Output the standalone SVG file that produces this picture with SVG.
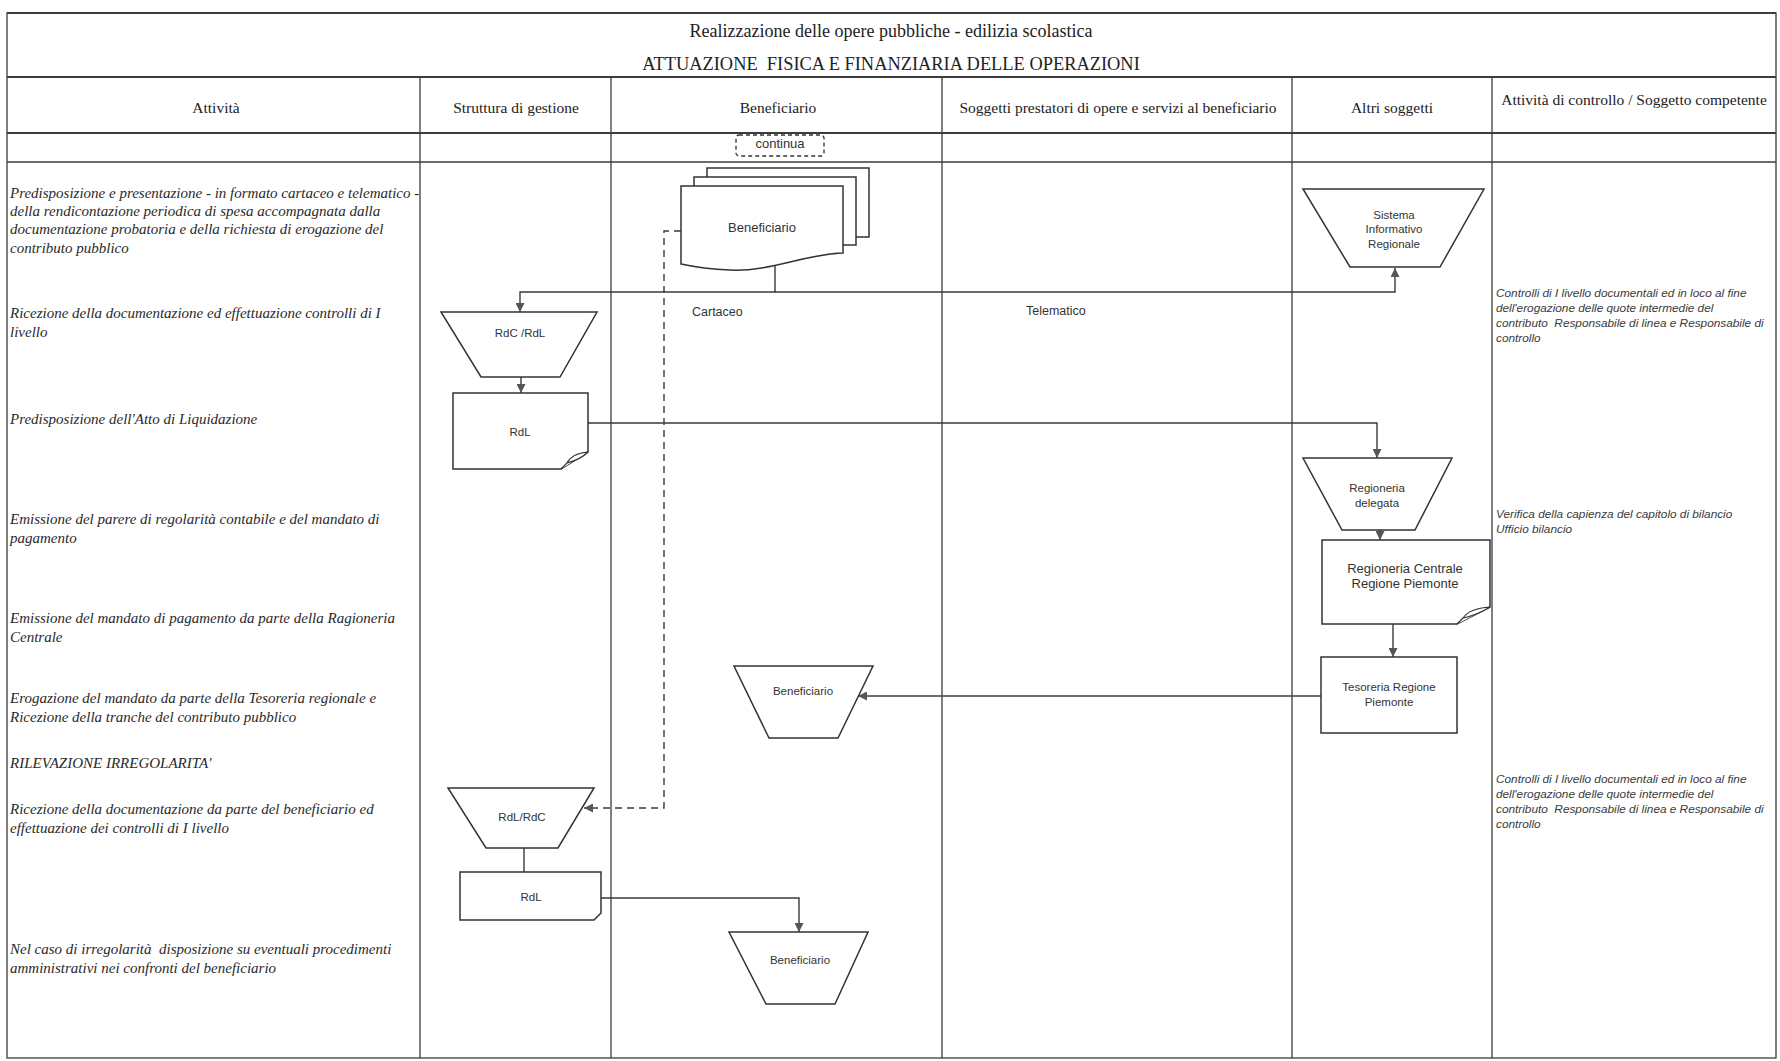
<svg xmlns="http://www.w3.org/2000/svg" width="1780" height="1061" viewBox="0 0 1780 1061">
<style>
.grid{stroke:#3c3c3c;stroke-width:1.3;fill:none}
.gridh{stroke:#3c3c3c;stroke-width:2.2;fill:none}
.title{font-family:"Liberation Serif",serif;font-size:18px;fill:#222;text-anchor:middle}
.hdr{font-family:"Liberation Serif",serif;font-size:15.5px;fill:#222;text-anchor:middle}
.act{font-family:"Liberation Serif",serif;font-style:italic;font-size:15px;fill:#2a2a2a}
.ctl{font-family:"Liberation Sans",sans-serif;font-style:italic;font-size:11.8px;fill:#3a3a3a}
.shape{fill:#fff;stroke:#333;stroke-width:1.5}
.lbl{font-family:"Liberation Sans",sans-serif;font-size:11.5px;fill:#333;text-anchor:middle}
.lbl13{font-family:"Liberation Sans",sans-serif;font-size:13px;fill:#333;text-anchor:middle}
.free{font-family:"Liberation Sans",sans-serif;font-size:12.5px;fill:#333}
.conn{fill:none;stroke:#3a3a3a;stroke-width:1.4}
.dash{fill:none;stroke:#3a3a3a;stroke-width:1.4;stroke-dasharray:7 5}
</style>
<defs>
<marker id="arr" viewBox="0 0 10 10" refX="10" refY="5" markerWidth="9" markerHeight="9" markerUnits="userSpaceOnUse" orient="auto">
<path d="M0,0 L10,5 L0,10 Z" fill="#555"/>
</marker>
</defs>
<rect width="1780" height="1061" fill="#fff"/>

<g id="grid">
<rect x="7" y="13" width="1769" height="1045" class="grid"/>
<line x1="7" y1="13" x2="1776" y2="13" class="gridh"/>
<line x1="7" y1="77" x2="1776" y2="77" class="gridh"/>
<line x1="7" y1="133" x2="1776" y2="133" class="gridh"/>
<line x1="7" y1="162" x2="1776" y2="162" class="grid"/>
<line x1="420" y1="77" x2="420" y2="1058" class="grid"/>
<line x1="611" y1="77" x2="611" y2="1058" class="grid"/>
<line x1="942" y1="77" x2="942" y2="1058" class="grid"/>
<line x1="1292" y1="77" x2="1292" y2="1058" class="grid"/>
<line x1="1492" y1="77" x2="1492" y2="1058" class="grid"/>
</g>

<g id="titles">
<text x="891" y="37" class="title">Realizzazione delle opere pubbliche - edilizia scolastica</text>
<text x="891" y="70" class="title" style="font-size:18.4px" xml:space="preserve">ATTUAZIONE  FISICA E FINANZIARIA DELLE OPERAZIONI</text>
</g>

<g id="headers">
<text x="216" y="113" class="hdr">Attività</text>
<text x="516" y="113" class="hdr">Struttura di gestione</text>
<text x="778" y="113" class="hdr">Beneficiario</text>
<text x="1118" y="113" class="hdr">Soggetti prestatori di opere e servizi al beneficiario</text>
<text x="1392" y="113" class="hdr">Altri soggetti</text>
<text x="1634" y="105" class="hdr">Attività di controllo / Soggetto competente</text>
</g>

<g id="activities">
<text x="10" y="197.5" class="act">Predisposizione e presentazione - in formato cartaceo e telematico -</text>
<text x="10" y="215.5" class="act">della rendicontazione periodica di spesa accompagnata dalla</text>
<text x="10" y="234" class="act">documentazione probatoria e della richiesta di erogazione del</text>
<text x="10" y="252.5" class="act">contributo pubblico</text>
<text x="10" y="318" class="act">Ricezione della documentazione ed effettuazione controlli di I</text>
<text x="10" y="337" class="act">livello</text>
<text x="10" y="424" class="act">Predisposizione dell'Atto di Liquidazione</text>
<text x="10" y="524" class="act">Emissione del parere di regolarità contabile e del mandato di</text>
<text x="10" y="542.5" class="act">pagamento</text>
<text x="10" y="623" class="act">Emissione del mandato di pagamento da parte della Ragioneria</text>
<text x="10" y="642" class="act">Centrale</text>
<text x="10" y="703" class="act">Erogazione del mandato da parte della Tesoreria regionale e</text>
<text x="10" y="721.5" class="act">Ricezione della tranche del contributo pubblico</text>
<text x="10" y="768" class="act">RILEVAZIONE IRREGOLARITA'</text>
<text x="10" y="814" class="act">Ricezione della documentazione da parte del beneficiario ed</text>
<text x="10" y="833" class="act">effettuazione dei controlli di I livello</text>
<text x="10" y="954" class="act" xml:space="preserve">Nel caso di irregolarità  disposizione su eventuali procedimenti</text>
<text x="10" y="973" class="act">amministrativi nei confronti del beneficiario</text>
</g>

<g id="controls">
<text x="1496" y="297" class="ctl">Controlli di I livello documentali ed in loco al fine</text>
<text x="1496" y="312" class="ctl">dell'erogazione delle quote intermedie del</text>
<text x="1496" y="327" class="ctl" xml:space="preserve">contributo  Responsabile di linea e Responsabile di</text>
<text x="1496" y="342" class="ctl">controllo</text>
<text x="1496" y="518" class="ctl">Verifica della capienza del capitolo di bilancio</text>
<text x="1496" y="533" class="ctl">Ufficio bilancio</text>
<text x="1496" y="783" class="ctl">Controlli di I livello documentali ed in loco al fine</text>
<text x="1496" y="798" class="ctl">dell'erogazione delle quote intermedie del</text>
<text x="1496" y="813" class="ctl" xml:space="preserve">contributo  Responsabile di linea e Responsabile di</text>
<text x="1496" y="828" class="ctl">controllo</text>
</g>

<g id="connectors">
<path d="M775,264 V292 H520 V312" class="conn" marker-end="url(#arr)"/>
<path d="M775,292 H1395 V268" class="conn" marker-end="url(#arr)"/>
<path d="M521,377 V393" class="conn" marker-end="url(#arr)"/>
<path d="M584,423 H1377 V458" class="conn" marker-end="url(#arr)"/>
<path d="M1380,530 V540" class="conn" marker-end="url(#arr)"/>
<path d="M1393,624 V657" class="conn" marker-end="url(#arr)"/>
<path d="M1321,696 H858" class="conn" marker-end="url(#arr)"/>
<path d="M681,231 H664 V808 H584" class="dash" marker-end="url(#arr)"/>
<path d="M524,848 V872" class="conn"/>
<path d="M601,898 H799 V932" class="conn" marker-end="url(#arr)"/>
</g>

<g id="continua">
<rect x="736" y="135" width="88" height="21" rx="3" fill="#fff" stroke="#333" stroke-width="1.3" stroke-dasharray="4 3"/>
<text x="780" y="148" class="lbl13">continua</text>
</g>

<g id="beneficiario-doc">
<rect x="707" y="168" width="162" height="69" class="shape"/>
<rect x="694" y="177" width="162" height="68" class="shape"/>
<path d="M681,186 H843 V253 C805,254 770,272 730,270 C705,269 690,266 681,264 Z" class="shape"/>
<text x="762" y="232" class="lbl13">Beneficiario</text>
</g>

<g id="cartaceo"><text x="692" y="316" class="free">Cartaceo</text></g>
<g id="telematico"><text x="1026" y="315" class="free">Telematico</text></g>

<g id="sistema-informativo">
<path d="M1303,189 H1484 L1440,267 H1350 Z" class="shape"/>
<text x="1394" y="219" class="lbl">Sistema</text>
<text x="1394" y="233" class="lbl">Informativo</text>
<text x="1394" y="248" class="lbl">Regionale</text>
</g>

<g id="rdc-rdl">
<path d="M441,312 H597 L560,377 H481 Z" class="shape"/>
<text x="520" y="337" class="lbl">RdC /RdL</text>
</g>

<g id="rdl-1">
<path d="M453,393 H588 V452 L561,469 H453 Z" class="shape"/>
<path d="M588,452 C577,453 570,457 567,463 L561,469 M567,463 C575,461 582,458 588,452" fill="#fff" stroke="#333" stroke-width="1.2"/>
<text x="520" y="436" class="lbl">RdL</text>
</g>

<g id="regioneria-delegata">
<path d="M1303,458 H1452 L1415,530 H1342 Z" class="shape"/>
<text x="1377" y="492" class="lbl">Regioneria</text>
<text x="1377" y="507" class="lbl">delegata</text>
</g>

<g id="regioneria-centrale">
<path d="M1322,540 H1490 V607 L1457,624 H1322 Z" class="shape"/>
<path d="M1490,607 C1476,608 1467,612 1463,618 L1457,624 M1463,618 C1473,616 1482,612 1490,607" fill="#fff" stroke="#333" stroke-width="1.2"/>
<text x="1405" y="573" class="lbl13">Regioneria Centrale</text>
<text x="1405" y="588" class="lbl13">Regione Piemonte</text>
</g>

<g id="tesoreria">
<rect x="1321" y="657" width="136" height="76" class="shape"/>
<text x="1389" y="691" class="lbl">Tesoreria Regione</text>
<text x="1389" y="706" class="lbl">Piemonte</text>
</g>

<g id="beneficiario-2">
<path d="M734,666 H873 L838,738 H769 Z" class="shape"/>
<text x="803" y="695" class="lbl">Beneficiario</text>
</g>

<g id="rdl-rdc">
<path d="M448,788 H594 L558,848 H486 Z" class="shape"/>
<text x="522" y="821" class="lbl">RdL/RdC</text>
</g>

<g id="rdl-2">
<path d="M460,872 H601 V913 L594,920 H460 Z" class="shape"/>
<text x="531" y="901" class="lbl">RdL</text>
</g>

<g id="beneficiario-3">
<path d="M729,932 H868 L835,1004 H766 Z" class="shape"/>
<text x="800" y="964" class="lbl">Beneficiario</text>
</g>
</svg>
